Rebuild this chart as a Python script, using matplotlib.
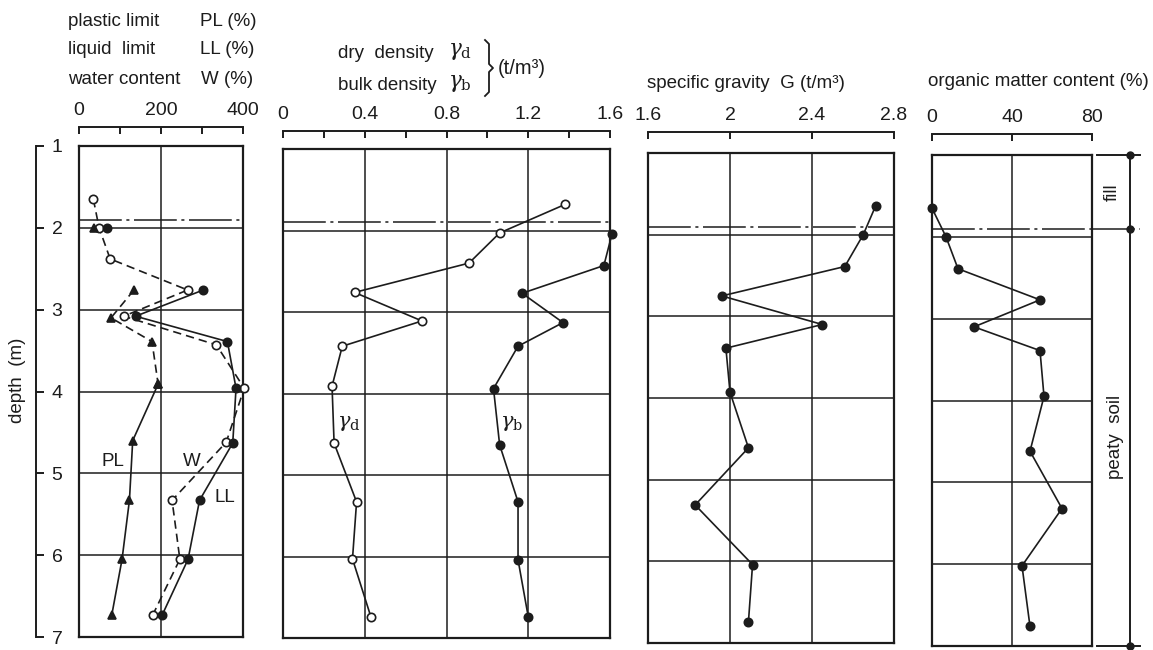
import matplotlib.pyplot as plt
import matplotlib.transforms as mtransforms
from matplotlib.lines import Line2D

plt.rcParams['font.family'] = ['Liberation Sans', 'DejaVu Sans']
plt.rcParams['mathtext.fontset'] = 'dejavuserif'

INK = '#1c1c1c'
W_PX, H_PX = 1153, 650

# consistency limits (%)
depth_w = [1.65, 2.0, 2.38, 2.76, 3.08, 3.43, 3.96, 4.62, 5.33, 6.05, 6.73]
water = [35, 49, 76, 265, 109, 335, 403, 359, 227, 246, 180]
depth_ll = [2.0, 2.76, 3.08, 3.39, 3.96, 4.63, 5.33, 6.05, 6.73]
liquid = [68, 303, 138, 362, 383, 375, 294, 266, 203]
depth_pl = [2.0, 2.76, 3.10, 3.39, 3.91, 4.60, 5.33, 6.05, 6.73]
plastic = [37, 134, 78, 178, 193, 131, 123, 105, 80]

# densities (t/m3)
depth_d = [1.68, 2.03, 2.40, 2.76, 3.11, 3.42, 3.91, 4.61, 5.33, 6.03, 6.74]
dry = [1.38, 1.06, 0.91, 0.35, 0.68, 0.29, 0.24, 0.25, 0.36, 0.34, 0.43]
depth_b = [2.04, 2.43, 2.77, 3.13, 3.42, 3.94, 4.63, 5.33, 6.04, 6.74]
bulk = [1.61, 1.57, 1.17, 1.37, 1.15, 1.03, 1.06, 1.15, 1.15, 1.20]

# specific gravity
depth_g = [1.65, 2.0, 2.39, 2.75, 3.10, 3.39, 3.93, 4.61, 5.31, 6.04, 6.74]
gravity = [2.71, 2.65, 2.56, 1.96, 2.45, 1.98, 2.00, 2.09, 1.83, 2.11, 2.09]

# organic matter content (%)
depth_om = [1.65, 2.0, 2.39, 2.77, 3.10, 3.39, 3.95, 4.62, 5.32, 6.02, 6.76]
organic = [0, 7, 13, 54, 21, 54, 56, 49, 65, 45, 49]

depth_ticks = [1, 2, 3, 4, 5, 6, 7]
fill_base = 1.9
DASHDOT = (0, (28, 3, 2, 3))


def px_axes(fig, x0, x1, y0, y1):
    return fig.add_axes([x0 / W_PX, 1 - y1 / H_PX, (x1 - x0) / W_PX, (y1 - y0) / H_PX])


def setup_panel(ax, xlim, grid_x, ticks, labels, minor, line_px, height_px):
    ax.set_xlim(*xlim)
    ax.set_ylim(7, 1)
    ax.set_xticks([])
    ax.set_yticks([])
    for s in ax.spines.values():
        s.set_linewidth(1.6)
        s.set_color(INK)
    for gx in grid_x:
        ax.axvline(gx, color=INK, lw=1.1, zorder=1)
    for d in [2, 3, 4, 5, 6]:
        ax.axhline(d, color=INK, lw=1.1, zorder=1)
    ax.axhline(fill_base, color=INK, lw=1.1, ls=DASHDOT, zorder=1)
    # scale bar above the frame
    sec = ax.secondary_xaxis(1 + line_px / height_px)
    sec.set_xticks(ticks, labels)
    sec.set_xticks(minor, minor=True)
    sec.spines['top'].set_linewidth(1.4)
    sec.spines['top'].set_color(INK)
    sec.tick_params(which='both', direction='in', length=5, width=1.4, color=INK,
                    labelsize=14, pad=6, labelcolor=INK)
    return sec


fig = plt.figure(figsize=(W_PX / 100, H_PX / 100), dpi=100)

ax1 = px_axes(fig, 79, 243, 146, 637)
ax2 = px_axes(fig, 283, 610, 149, 638)
ax3 = px_axes(fig, 648, 894, 153, 643)
ax4 = px_axes(fig, 932, 1092, 155, 646)

setup_panel(ax1, (0, 400), [200], [0, 200, 400], ['0', '200', '400'], [100, 300], 19, 491)
setup_panel(ax2, (0, 1.6), [0.4, 0.8, 1.2], [0, 0.4, 0.8, 1.2, 1.6],
            ['0', '0.4', '0.8', '1.2', '1.6'], [0.2, 0.6, 1.0, 1.4], 18, 489)
setup_panel(ax3, (1.6, 2.8), [2.0, 2.4], [1.6, 2.0, 2.4, 2.8], ['1.6', '2', '2.4', '2.8'], [], 21, 490)
setup_panel(ax4, (0, 80), [40], [0, 40, 80], ['0', '40', '80'], [], 21, 491)

mk = dict(markersize=6, markeredgewidth=1.2, color=INK, lw=1.2, clip_on=False, zorder=3)
tri = {**mk, 'markersize': 5.5}

# panel 1: W, LL, PL
ax1.plot(water, depth_w, ls=(0, (5, 3)), marker='o', markerfacecolor='white', **mk)
ax1.plot(liquid[1:], depth_ll[1:], ls='-', marker='o', **mk)
ax1.plot(liquid[:1], depth_ll[:1], ls='none', marker='o', **mk)
ax1.plot(plastic[1:5], depth_pl[1:5], ls=(0, (5, 3)), marker='^', **tri)
ax1.plot(plastic[4:], depth_pl[4:], ls='-', marker='^', **tri)
ax1.plot(plastic[:1], depth_pl[:1], ls='none', marker='^', **tri)
ax1.text(82, 4.85, 'PL', fontsize=13.5, ha='center', va='center', color=INK)
ax1.text(275, 4.85, 'W', fontsize=13.5, ha='center', va='center', color=INK)
ax1.text(357, 5.3, 'LL', fontsize=13.5, ha='center', va='center', color=INK)

# panel 2: dry and bulk density
ax2.plot(dry, depth_d, ls='-', marker='o', markerfacecolor='white', **mk)
ax2.plot(bulk, depth_b, ls='-', marker='o', **mk)
ax2.text(0.32, 4.37, r'$\gamma_{\rm d}$', fontsize=15, ha='center', va='center', color=INK)
ax2.text(1.12, 4.37, r'$\gamma_{\rm b}$', fontsize=15, ha='center', va='center', color=INK)

# panel 3: specific gravity
ax3.plot(gravity, depth_g, ls='-', marker='o', **mk)

# panel 4: organic matter, with the layer column on the right
ax4.plot(organic, depth_om, ls='-', marker='o', **mk)
tr = mtransforms.blended_transform_factory(ax4.transAxes, ax4.transData)
col_x = 1.2375
ax4.add_line(Line2D([col_x, col_x], [1, 7], transform=tr, color=INK, lw=1.4, clip_on=False))
for d in [1, 7]:
    ax4.add_line(Line2D([1.03, 1.30], [d, d], transform=tr, color=INK, lw=1.4, clip_on=False))
ax4.add_line(Line2D([1.0, 1.30], [fill_base, fill_base], transform=tr, color=INK, lw=1.1,
                    ls=DASHDOT, clip_on=False))
ax4.plot([col_x] * 3, [1, fill_base, 7], transform=tr, ls='none', marker='o',
         markersize=5, color=INK, clip_on=False)
ax4.text(1.125, 1.46, 'fill', transform=tr, rotation=90, fontsize=13.5,
         ha='center', va='center', color=INK)
ax4.text(1.15, 4.44, 'peaty  soil', transform=tr, rotation=90, fontsize=13.5,
         ha='center', va='center', color=INK)

# depth scale on the far left
axd = px_axes(fig, 36, 37, 146, 637)
axd.set_ylim(7, 1)
axd.set_xticks([])
axd.set_yticks(depth_ticks)
for name in ['top', 'right', 'bottom']:
    axd.spines[name].set_visible(False)
axd.spines['left'].set_linewidth(1.4)
axd.spines['left'].set_color(INK)
axd.patch.set_visible(False)
axd.tick_params(axis='y', direction='in', length=6, width=1.4, color=INK,
                labelsize=14, pad=-19, labelcolor=INK)
fig.text(18 / W_PX, 1 - 380 / H_PX, 'depth  (m)', rotation=90, fontsize=13.5,
         ha='center', va='center', color=INK)


def ftext(x, y, s, size=13.5):
    fig.text(x / W_PX, 1 - y / H_PX, s, fontsize=size, va='center', color=INK)


# headers
ftext(68, 21, 'plastic limit')
ftext(68, 50, 'liquid  limit')
ftext(68, 79, 'water content')
ftext(200, 21, 'PL (%)')
ftext(200, 50, 'LL (%)')
ftext(201, 79, 'W (%)')

ftext(338, 53, 'dry  density')
ftext(338, 85, 'bulk density')
ftext(448, 51, r'$\gamma_{\rm d}$', size=15.5)
ftext(448, 84, r'$\gamma_{\rm b}$', size=15.5)
bx = [485, 489, 489, 493, 489, 489, 485]
by = [40, 44, 64, 68, 72, 92, 96]
fig.add_artist(Line2D([x / W_PX for x in bx], [1 - y / H_PX for y in by],
                      transform=fig.transFigure, color=INK, lw=1.3))
ftext(498, 69, '(t/m³)', size=14.5)

ftext(647, 84, 'specific gravity  G (t/m³)')
ftext(928, 82, 'organic matter content (%)')

fig.savefig('out.png', dpi=100, facecolor='white')
